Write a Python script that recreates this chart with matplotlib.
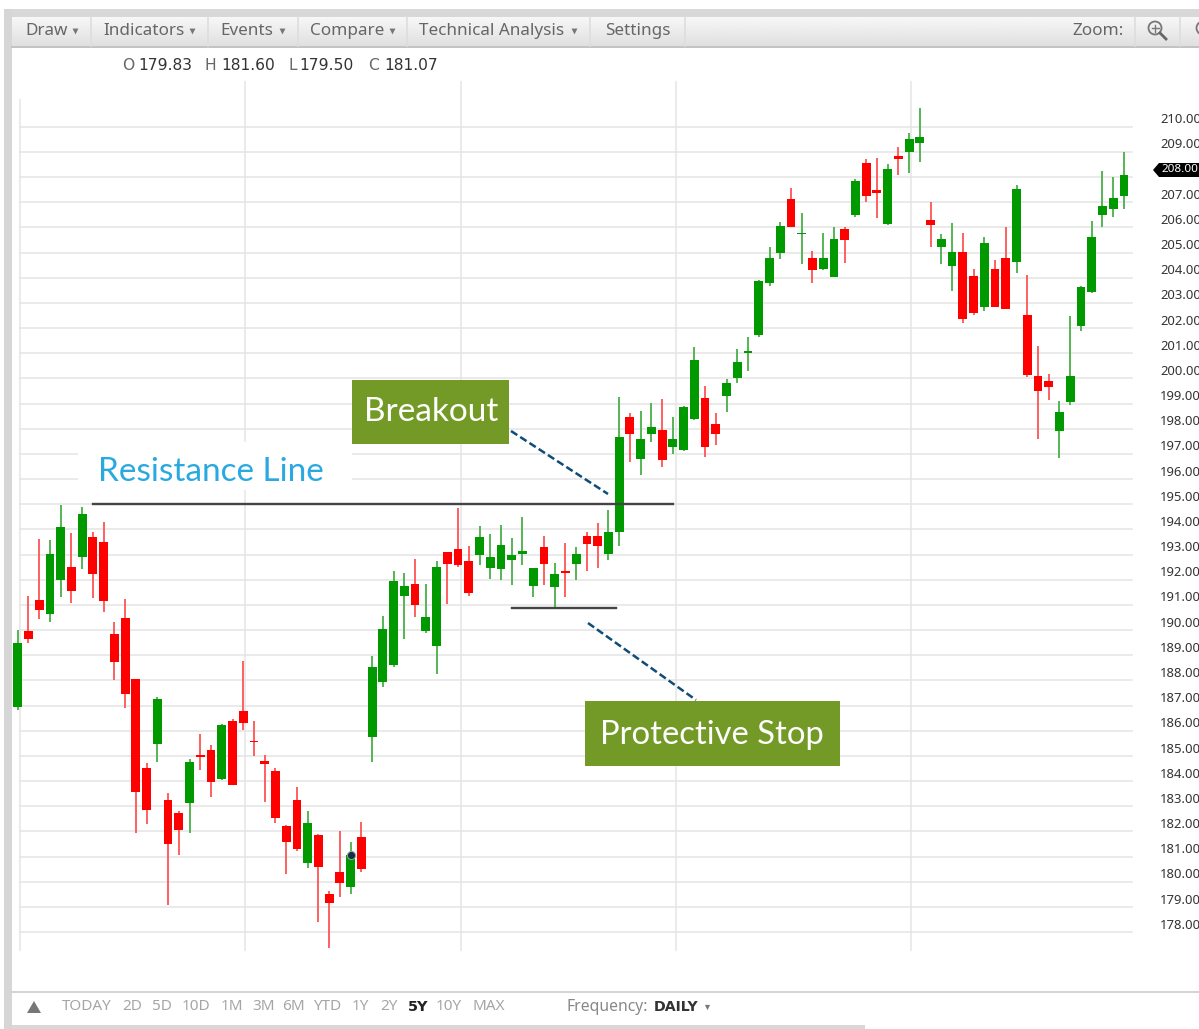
import numpy as np
import matplotlib
matplotlib.use("Agg")
import matplotlib.pyplot as plt
from matplotlib.patches import Rectangle, Circle, Polygon

# candles, oldest first
directions = list("GRRGGRGRRRRRRGRRGRRGRRRRRRRGRRRGR"
                  "GGGGRGGRRRGGGGGGRGRGRRGGRGGRGGGRRGG"
                  "GGGGRGRGGRGRRGRGGRGGRRGRRGRRRGGGGGGG")
highs = [190.01, 191.36, 193.62, 193.56, 194.97, 193.87, 194.88, 193.91, 194.31, 190.32, 191.25,
         188.07, 184.71, 187.36, 183.54, 182.83, 184.87, 185.87, 185.44, 186.25, 186.48, 188.76,
         186.38, 185.05, 184.52, 182.26, 183.78, 182.83, 181.90, 179.65, 182.03, 181.60, 182.39,
         188.97, 190.56, 192.36, 192.28, 192.81, 191.82, 192.76, 193.11, 194.84, 193.34, 194.15,
         193.81, 194.17, 193.64, 194.50, 192.46, 193.74, 192.66, 193.45, 193.29, 193.91, 194.27,
         194.77, 199.25, 198.62, 198.72, 199.01, 199.17, 198.48, 198.91, 201.24, 199.68, 198.62,
         199.97, 201.16, 201.63, 203.91, 205.21, 206.21, 207.55, 206.56, 205.06, 205.79, 206.03,
         206.03, 207.93, 208.70, 208.74, 208.52, 209.18, 209.74, 210.73, 207.02, 205.74, 206.19,
         205.79, 204.34, 205.63, 204.70, 206.03, 207.70, 204.11, 201.28, 200.17, 199.11, 202.48,
         203.67, 206.26, 208.24, 207.99, 208.98]
body_tops = [189.48, 189.97, 191.19, 193.01, 194.09, 192.52, 194.62, 193.69, 193.52, 189.85, 190.50,
             188.07, 184.52, 187.26, 183.25, 182.75, 184.76, 185.03, 185.24, 186.22, 186.39, 186.80,
             185.60, 184.81, 184.40, 182.22, 183.25, 182.32, 181.85, 179.50, 180.40, 181.07, 181.79,
             188.55, 190.05, 191.97, 191.75, 191.82, 190.51, 192.52, 193.11, 193.24, 192.76, 193.68,
             192.89, 193.38, 192.99, 193.16, 192.46, 193.32, 192.23, 192.36, 193.03, 193.72, 193.72,
             193.91, 197.66, 198.47, 197.60, 198.06, 197.94, 197.60, 198.88, 200.74, 199.21, 198.18,
             199.83, 200.67, 201.07, 203.88, 204.79, 206.05, 207.11, 205.79, 204.78, 204.78, 205.55,
             205.95, 207.85, 208.54, 207.50, 208.33, 208.83, 209.52, 209.60, 206.29, 205.54, 205.01,
             205.01, 204.07, 205.36, 204.36, 204.78, 207.51, 202.50, 200.11, 199.91, 198.68, 200.09,
             203.64, 205.63, 206.85, 207.15, 208.08]
body_bottoms = [186.96, 189.65, 190.80, 190.64, 191.99, 191.57, 192.92, 192.21, 191.17, 188.74, 187.46,
                183.57, 182.85, 185.48, 181.50, 182.06, 183.12, 184.97, 183.98, 184.09, 183.85, 186.30,
                185.54, 184.68, 182.52, 181.60, 181.29, 180.74, 180.58, 179.17, 179.97, 179.81, 180.50,
                185.77, 187.93, 188.62, 191.36, 191.00, 189.98, 189.37, 192.63, 192.59, 191.49, 192.97,
                192.48, 192.43, 192.79, 193.01, 191.75, 192.63, 191.73, 192.28, 192.62, 193.42, 193.34,
                193.01, 193.90, 197.81, 196.81, 197.79, 196.76, 197.29, 197.16, 198.38, 197.29, 197.79,
                199.30, 200.01, 200.99, 201.72, 203.81, 204.97, 206.01, 205.72, 204.29, 204.33, 204.04,
                205.50, 206.49, 207.23, 207.38, 206.13, 208.70, 208.99, 209.34, 206.08, 205.22, 204.45,
                202.37, 202.61, 202.82, 202.83, 202.77, 204.62, 200.15, 199.51, 199.64, 197.92, 199.06,
                202.08, 203.42, 206.49, 206.72, 207.23]
lows = [186.83, 189.48, 190.46, 190.34, 191.33, 191.09, 192.43, 191.26, 190.70, 188.02, 186.92,
        181.93, 182.28, 184.77, 179.09, 181.08, 181.93, 184.44, 183.38, 184.05, 183.85, 186.03,
        185.00, 183.16, 182.35, 180.31, 181.24, 180.54, 178.40, 177.36, 179.38, 179.50, 180.39,
        184.77, 187.73, 188.55, 189.64, 190.51, 189.87, 188.25, 191.04, 192.52, 191.36, 192.58,
        192.02, 191.99, 191.78, 192.59, 191.30, 191.78, 190.91, 191.33, 191.99, 192.36, 192.48,
        192.79, 193.34, 196.67, 196.17, 197.49, 196.47, 196.99, 197.13, 198.35, 196.87, 197.36,
        198.68, 199.81, 200.30, 201.63, 203.67, 204.74, 206.01, 204.54, 203.80, 204.30, 204.01,
        204.60, 206.40, 207.02, 206.36, 206.11, 208.07, 208.15, 208.60, 205.23, 204.54, 203.46,
        202.21, 202.50, 202.69, 202.82, 202.74, 204.17, 200.04, 197.58, 199.14, 196.83, 198.93,
        201.89, 203.40, 206.00, 206.40, 206.74]

price_ticks = list(range(178, 211))
last_price = 208
resistance_price = 195
stop_price = 190.88
resistance_span = [7, 61]
stop_span = [46, 55.7]
cursor_index = 31
cursor_price = 181.07

menu_items = ["Draw", "Indicators", "Events", "Compare", "Technical Analysis", "Settings"]
range_labels = ["TODAY", "2D", "5D", "10D", "1M", "3M", "6M", "YTD", "1Y", "2Y", "5Y", "10Y", "MAX"]
ohlc_letters = ["O", "H", "L", "C"]
ohlc_values = ["179.83", "181.60", "179.50", "181.07"]

W, H = 1199, 1029
UI_FONT = "Noto Sans"
BOLD_FONT = "DejaVu Sans"
CALLOUT_FONT = "Lato"
GREEN = "#009a00"
RED = "#ff0000"

fig = plt.figure(figsize=(W / 100, H / 100), dpi=100, facecolor="white")

# --- price chart: one candle every 10.74 px, one dollar every 25.17 px ---
ax = fig.add_axes([0, 0, 1, 1])
ax.set_xlim(-17.7 / 10.74, (W - 17.7) / 10.74)
ax.set_ylim(210 - (H - 126.7) / 25.17, 210 + 126.7 / 25.17)
ax.axis("off")

gridline_left, gridline_right = 20 / W, 1132 / W
for p in price_ticks:
    ax.plot([gridline_left, gridline_right], [p, p], transform=ax.get_yaxis_transform(),
            color="#e4e4e4", lw=1.1, zorder=1)
    if p != last_price:
        ax.annotate(f"{p:.2f}", xy=(1160 / W, p), xycoords=ax.get_yaxis_transform(),
                    xytext=(0, 5), textcoords="offset points", ha="left", va="center",
                    fontsize=9.4, color="#333333", family=UI_FONT, annotation_clip=False)

xs = np.arange(len(highs))
up = np.array([d == "G" for d in directions])
body_colors = [GREEN if u else RED for u in up]
wick_colors = ["#4fb34f" if u else "#ff5a5a" for u in up]
ax.vlines(xs, lows, highs, colors=wick_colors, lw=1.35, zorder=3)
heights = np.maximum(np.array(body_tops) - np.array(body_bottoms), 0.07)
ax.bar(xs, heights, bottom=body_bottoms, width=0.82, color=body_colors, lw=0, zorder=4)

ax.plot(resistance_span, [resistance_price] * 2, color="#444444", lw=1.7, zorder=5)
ax.plot(stop_span, [stop_price] * 2, color="#444444", lw=1.7, zorder=5)
ax.scatter([cursor_index], [cursor_price], s=34, color="#12303f", edgecolors="#9aa6aa", lw=0.7, zorder=6)

# --- page furniture and callouts, in pixel coordinates ---
ov = fig.add_axes([0, 0, 1, 1], facecolor="none", zorder=5)
ov.set_xlim(0, W)
ov.set_ylim(H, 0)
ov.axis("off")

for x in [245, 461, 676, 911]:
    ax.plot([x / W, x / W], [0.077, 0.92], transform=ax.transAxes, color="#ebebeb", lw=1.5, zorder=0.5)
ax.plot([20 / W, 20 / W], [0.077, 0.903], transform=ax.transAxes, color="#ebebeb", lw=1.5, zorder=0.5)

ov.add_patch(Rectangle((4, 9), W, 8, color="#d8d8d8", lw=0))
ov.add_patch(Rectangle((4, 9), 8, H, color="#d6d6d6", lw=0))
ov.add_patch(Rectangle((12, 1025), 853, 4, color="#d8d8d8", lw=0))

gradient = np.linspace(0.97, 0.875, 30).reshape(-1, 1)
ov.imshow(gradient, extent=(12, W, 46, 17), aspect="auto", cmap="gray", vmin=0, vmax=1, zorder=1)
ov.set_xlim(0, W)
ov.set_ylim(H, 0)
ov.plot([12, W], [46.5, 46.5], color="#b8b8b8", lw=1.2, zorder=2)
for x in [91, 208, 298, 407, 590, 685, 1135, 1180]:
    ov.plot([x, x], [17, 46], color="#dddddd", lw=1.2, zorder=2)

for x, s in zip([25, 103, 220, 310, 419, 605], menu_items):
    ov.text(x, 31, s, fontsize=12.3, color="#666666", family=UI_FONT, va="center", zorder=3)
ov.scatter([75, 192, 282, 392, 574], [31] * 5, marker="v", s=18, color="#777777", lw=0, zorder=3)
ov.text(1072, 31, "Zoom:", fontsize=12.3, color="#666666", family=UI_FONT, va="center", zorder=3)

ov.add_patch(Circle((1155, 28), 6.5, fill=False, ec="#777777", lw=1.3, zorder=3))
ov.plot([1151.5, 1158.5], [28, 28], color="#777777", lw=1, zorder=3)
ov.plot([1155, 1155], [24.5, 31.5], color="#777777", lw=1, zorder=3)
ov.plot([1160, 1166], [33, 39], color="#666666", lw=2, zorder=3)
ov.add_patch(Circle((1203, 28), 6.5, fill=False, ec="#777777", lw=1.3, zorder=3))

for x, s in zip([122, 205, 289, 368], ohlc_letters):
    ov.text(x, 66, s, fontsize=11.2, color="#666666", family=BOLD_FONT, va="center")
for x, s in zip([138, 221, 299, 384], ohlc_values):
    ov.text(x, 66, s, fontsize=11.2, color="#333333", family=BOLD_FONT, va="center")

# last price tag
ov.add_patch(Polygon([(1153, 170), (1159, 163), (1199, 163), (1199, 177), (1159, 177)], color="black", lw=0))
ov.text(1162, 170, f"{last_price:.2f}", fontsize=8.4, color="white", family=UI_FONT, va="center")

# range bar
ov.plot([12, W], [992, 992], color="#cccccc", lw=1.2)
ov.add_patch(Polygon([(27, 1013), (41, 1013), (34, 1001)], color="#777777", lw=0))
for x, s in zip([62, 122, 152, 182, 221, 252, 282, 313, 352, 380, 408, 436, 473], range_labels):
    if s == "5Y":
        ov.text(x, 1007, s, fontsize=10.4, color="#222222", family=BOLD_FONT, va="center", weight="bold")
    else:
        ov.text(x, 1007, s, fontsize=11, color="#a6a6a6", family=UI_FONT, va="center")
ov.text(566, 1007, "Frequency:", fontsize=11.3, color="#888888", family=UI_FONT, va="center")
ov.text(654, 1007, "DAILY", fontsize=10.2, color="#333333", family=BOLD_FONT, va="center", weight="bold")
ov.scatter([707], [1007], marker="v", s=14, color="#777777", lw=0)

# callouts
ov.add_patch(Rectangle((78, 442), 274, 48, color="white", lw=0, zorder=2))
ov.text(98, 472, "Resistance Line", fontsize=24, color="#29a9e0", family=CALLOUT_FONT, va="center", zorder=3)

ov.add_patch(Rectangle((352, 380), 157, 64, color="#739a27", lw=0, zorder=2))
ov.text(364, 412, "Breakout", fontsize=24, color="white", family=CALLOUT_FONT, va="center", zorder=3)
ov.plot([511, 608], [431, 494], color="#0f4c78", lw=1.8, ls=(0, (3, 1.4)), zorder=3)

ov.add_patch(Rectangle((585, 701), 255, 65, color="#739a27", lw=0, zorder=2))
ov.text(600, 735, "Protective Stop", fontsize=23.6, color="white", family=CALLOUT_FONT, va="center", zorder=3)
ov.plot([588, 696], [623, 700], color="#0f4c78", lw=1.8, ls=(0, (3, 1.4)), zorder=3)

fig.savefig("out.png", dpi=100)
